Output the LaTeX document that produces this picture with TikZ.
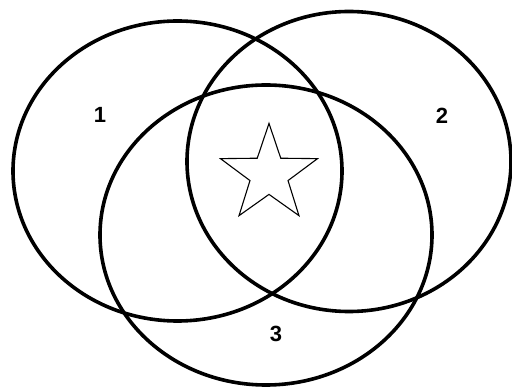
\documentclass[tikz,border=0pt]{standalone}
\usepackage{fontspec}
\setmainfont{Liberation Sans}
\usetikzlibrary{calc}

\begin{document}
\begin{tikzpicture}[x=1pt, y=1pt,
  setline/.style={line width=3.6pt, black},
  starline/.style={line width=1.1pt, black, line join=miter},
  setlabel/.style={font=\fontsize{22}{22}\selectfont\bfseries}]
  \useasboundingbox (0,0) rectangle (512,388);
  % the three sets
  \draw[setline] (177.5,217) ellipse [x radius=164.5, y radius=150];
  \draw[setline] (349,226.5) ellipse [x radius=162, y radius=150];
  \draw[setline] (266,153) ellipse [x radius=166, y radius=150];
  % star in the common part
  \coordinate (ctr) at (269,213.6);
  \draw[starline] ([shift={(ctr)}]90:51)
    \foreach \k [evaluate=\k as \r using {mod(\k,2)==0 ? 51 : 20}] in {1,...,9}{
      -- ([shift={(ctr)}]90+36*\k:\r)
    } -- cycle;
  % set numbers
  \node[setlabel] (one)   at (100,273) {1};
  \node[setlabel] (two)   at (442,272) {2};
  \node[setlabel] (three) at (276,54)  {3};
\end{tikzpicture}
\end{document}
